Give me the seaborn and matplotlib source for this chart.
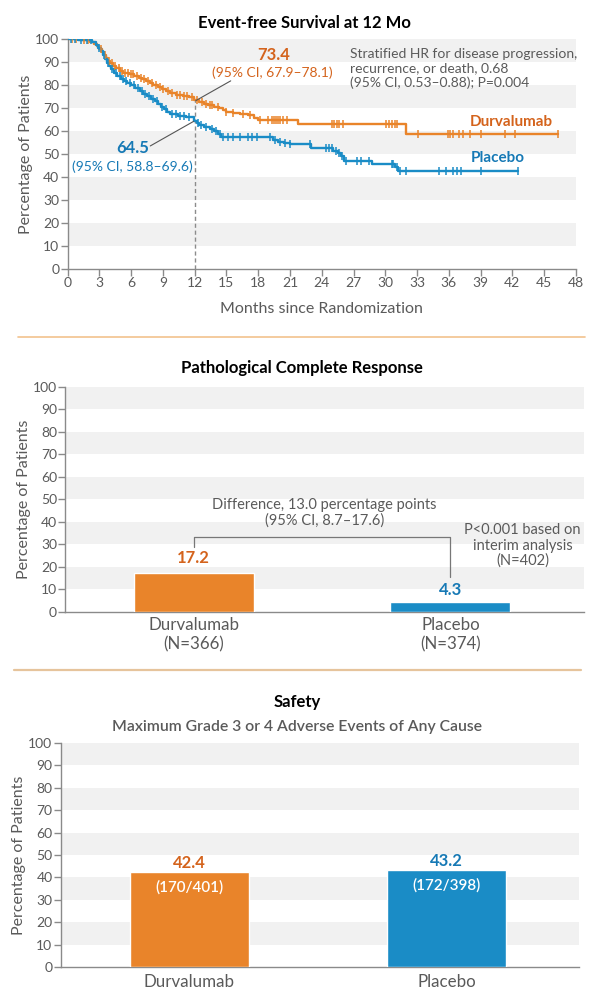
import numpy as np
import pandas as pd
import matplotlib
matplotlib.use("Agg")
import matplotlib.pyplot as plt
import seaborn as sns

sns.set_theme(style="white")
plt.rcParams['font.family'] = ['Lato', 'DejaVu Sans']

# colours
ORANGE = "#E9842A"
BLUE = "#1A8CC6"
ORANGE_TXT = "#D4631C"
BLUE_TXT = "#1679B5"
GREY_TXT = "#5a5a5a"
AXIS_GREY = "#8a8a8a"
BAND = "#F1F1F1"

# --- Event-free survival ---
durva_t = [0, 1.2, 2.1, 2.5, 2.8, 3.0, 3.2, 3.4, 3.6, 3.8, 4.0, 4.3, 4.6, 4.9, 5.2, 5.8, 6.3, 6.7,
           7.0, 7.4, 7.8, 8.1, 8.5, 8.9, 9.3, 9.7, 10.2, 10.9, 11.5, 11.9, 12.4, 12.9, 13.3, 13.8,
           14.3, 14.7, 15.0, 15.6, 16.3, 17.0, 17.6, 18.0, 21.8, 32.0, 46.3]
durva_s = [100, 99.4, 98.8, 97.8, 96.8, 95.6, 94.4, 93.2, 91.8, 90.6, 89.4, 88.2, 87.2, 86.2, 85.4,
           84.8, 84.0, 83.2, 82.6, 81.8, 80.8, 80.0, 79.0, 78.2, 77.2, 76.4, 75.8, 75.2, 74.6, 73.4,
           72.6, 71.8, 71.2, 70.6, 70.0, 69.2, 68.2, 67.8, 67.4, 66.8, 65.8, 64.6, 63.2, 58.9, 58.9]
durva_cens = [0.4, 0.8, 1.5, 1.9, 3.1, 3.5, 3.9, 4.2, 4.5, 4.8, 5.1, 5.4, 5.7, 6.0, 6.2, 6.5, 6.9,
              7.2, 7.6, 8.0, 8.3, 8.7, 9.0, 9.5, 9.9, 10.3, 10.6, 11.0, 11.3, 11.7, 12.2, 12.7, 13.1,
              13.4, 13.6, 14.2, 15.0, 15.6, 16.6, 17.2, 18.2, 18.9, 19.3, 19.5, 19.7, 19.9, 20.1,
              20.3, 20.7, 25.0, 25.2, 25.4, 25.6, 26.0, 30.1, 30.4, 30.6, 30.9, 31.1, 33.1, 35.9,
              36.1, 36.4, 37.0, 37.3, 38.0, 39.0, 41.3, 42.3, 46.3]

placebo_t = [0, 1.0, 2.3, 2.7, 2.9, 3.1, 3.3, 3.5, 3.7, 3.9, 4.1, 4.4, 4.7, 5.0, 5.3, 5.6, 6.0, 6.4,
             6.8, 7.1, 7.5, 7.9, 8.2, 8.5, 8.8, 9.1, 9.4, 9.7, 10.4, 11.2, 11.9, 12.2, 12.4, 12.9,
             13.4, 13.8, 14.2, 14.5, 19.4, 19.9, 20.4, 21.0, 23.0, 25.1, 25.5, 25.8, 26.1, 28.7,
             30.9, 31.2, 42.5]
placebo_s = [100, 99.4, 98.8, 97.4, 96.2, 94.6, 93.0, 91.2, 89.6, 88.2, 86.8, 85.2, 84.0, 82.8,
             81.8, 80.8, 79.8, 78.6, 77.2, 76.2, 75.2, 74.0, 73.0, 71.8, 70.6, 69.4, 68.2, 67.2,
             66.6, 66.0, 64.5, 63.4, 62.6, 61.6, 60.8, 59.8, 58.6, 57.2, 56.2, 55.4, 54.8, 54.2,
             52.4, 51.4, 50.4, 49.2, 47.0, 45.6, 44.2, 42.8, 42.8]
placebo_cens = [0.3, 0.7, 1.3, 1.8, 2.2, 3.0, 3.4, 3.8, 4.2, 4.6, 4.9, 5.2, 5.5, 5.9, 6.3, 6.6, 7.0,
                7.3, 7.7, 8.1, 8.4, 8.9, 9.3, 9.9, 10.2, 10.6, 11.0, 11.5, 12.3, 12.6, 13.1, 13.6,
                14.0, 14.4, 14.7, 15.1, 15.6, 16.3, 17.0, 17.4, 17.9, 19.1, 19.6, 20.1, 20.5, 21.0,
                22.9, 24.4, 24.7, 25.0, 25.3, 25.6, 25.9, 26.3, 27.3, 27.7, 28.5, 30.6, 30.7, 31.1,
                31.4, 32.0, 35.1, 35.7, 36.4, 36.8, 37.2, 39.0, 42.5]

# --- bar panels ---
arms = ["Durvalumab", "Placebo"]
pcr_values = [17.2, 4.3]
pcr_labels = ["Durvalumab\n(N=366)", "Placebo\n(N=374)"]
ae_values = [42.4, 43.2]
ae_counts = ["(170/401)", "(172/398)"]

TICK_FS = 10
LABEL_FS = 11.5
NOTE_FS = 10
TITLE_FS = 12
CAT_FS = 12.2


def step_value(times, surv, t):
    idx = np.searchsorted(times, t, side="right") - 1
    return np.array(surv)[idx]


def style_axis(ax):
    # grey bands 10-20, 30-40, ... 90-100
    for y0 in range(10, 100, 20):
        ax.axhspan(y0, y0 + 10, color=BAND, lw=0, zorder=0)
    ax.set_ylim(0, 100)
    ax.set_yticks(range(0, 101, 10))
    sns.despine(ax=ax)
    for s in ("left", "bottom"):
        ax.spines[s].set_color(AXIS_GREY)
        ax.spines[s].set_linewidth(1.0)
    ax.tick_params(axis="y", direction="out", length=5, width=1, color=AXIS_GREY,
                   labelsize=TICK_FS, labelcolor=GREY_TXT, pad=1, left=True)
    ax.set_ylabel("Percentage of Patients", fontsize=LABEL_FS, color=GREY_TXT, labelpad=1.5)
    ax.set_facecolor("white")


fig = plt.figure(figsize=(6, 9.93), dpi=100)

def fx(px):
    return px / 600

def fy(py):
    return 1 - py / 993

# ---------------- top panel ----------------
ax1 = fig.add_axes([fx(67.7), fy(269), fx(575.8) - fx(67.7), fy(39) - fy(269)])
style_axis(ax1)
ax1.set_xlim(0, 48)
ax1.set_xticks(range(0, 49, 3))
ax1.tick_params(axis="x", direction="out", length=5, width=1, color=AXIS_GREY,
                labelsize=TICK_FS, labelcolor=GREY_TXT, pad=1, bottom=True)

km = pd.concat([
    pd.DataFrame({"t": durva_t, "s": durva_s, "arm": "Durvalumab"}),
    pd.DataFrame({"t": placebo_t, "s": placebo_s, "arm": "Placebo"}),
])
cens = pd.concat([
    pd.DataFrame({"t": durva_cens, "s": step_value(durva_t, durva_s, durva_cens), "arm": "Durvalumab"}),
    pd.DataFrame({"t": placebo_cens, "s": step_value(placebo_t, placebo_s, placebo_cens), "arm": "Placebo"}),
])
pal = {"Durvalumab": ORANGE, "Placebo": BLUE}
sns.lineplot(data=km, x="t", y="s", hue="arm", palette=pal, drawstyle="steps-post",
             estimator=None, sort=False, lw=1.7, legend=False, ax=ax1, zorder=3)
for arm in ["Durvalumab", "Placebo"]:
    sub = cens[cens["arm"] == arm]
    ax1.plot(sub["t"], sub["s"], ls="none", marker="|", ms=5.5, mew=1.1, color=pal[arm], zorder=4)
ax1.set_xlabel("Months since Randomization", fontsize=LABEL_FS, color=GREY_TXT, labelpad=9)
ax1.set_ylabel("Percentage of Patients", fontsize=LABEL_FS, color=GREY_TXT, labelpad=1.5)

ax1.plot([12, 12], [0, 73.4], ls=(0, (3, 2)), color="#8c8c8c", lw=1, zorder=2)
ax1.plot([12.1, 15.4], [73.2, 81.8], color="#555555", lw=0.8, zorder=5)
ax1.plot([11.9, 7.8], [64.2, 53.5], color="#555555", lw=0.8, zorder=5)
ax1.text(19.5, 93.0, "73.4", color=ORANGE_TXT, fontsize=12, fontweight="bold", ha="center", va="center")
ax1.text(19.3, 85.3, "(95% CI, 67.9\u201378.1)", color=ORANGE_TXT, fontsize=NOTE_FS, ha="center", va="center")
ax1.text(6.1, 52.8, "64.5", color=BLUE_TXT, fontsize=12, fontweight="bold", ha="center", va="center")
ax1.text(6.1, 44.4, "(95% CI, 58.8\u201369.6)", color=BLUE_TXT, fontsize=NOTE_FS, ha="center", va="center")
ax1.text(26.7, 87.2, "Stratified HR for disease progression,\nrecurrence, or death, 0.68\n"
         "(95% CI, 0.53\u20130.88); P=0.004", color=GREY_TXT, fontsize=NOTE_FS,
         ha="left", va="center", linespacing=1.22)
ax1.text(45.8, 64.0, "Durvalumab", color=ORANGE_TXT, fontsize=11, fontweight="bold", ha="right", va="center")
ax1.text(43.2, 48.3, "Placebo", color=BLUE_TXT, fontsize=11, fontweight="bold", ha="right", va="center")
fig.text(fx(304), fy(23), "Event-free Survival at 12 Mo", fontsize=TITLE_FS, fontweight="bold",
         color="black", ha="center", va="center")

# separators
fig.add_artist(plt.Line2D([fx(18), fx(585)], [fy(337), fy(337)], color="#F2C28E", lw=1.2))
fig.add_artist(plt.Line2D([fx(14), fx(581)], [fy(670), fy(670)], color="#E6C49C", lw=1.6))

# ---------------- middle panel ----------------
ax2 = fig.add_axes([fx(65.4), fy(611.7), fx(583.8) - fx(65.4), fy(386.7) - fy(611.7)])
sns.barplot(x=arms, y=pcr_values, hue=arms, palette=[ORANGE, BLUE], width=0.467,
            legend=False, ax=ax2, zorder=3, saturation=1)
style_axis(ax2)
ax2.set_xlim(-0.499, 1.519)
ax2.set_xticks([0, 1])
ax2.set_xticklabels(pcr_labels, fontsize=CAT_FS, color=GREY_TXT, linespacing=1.2)
ax2.tick_params(axis="x", length=0, pad=4)
ax2.set_xlabel("")
ax2.text(0, 23.7, "17.2", color=ORANGE_TXT, fontsize=12, fontweight="bold", ha="center", va="center")
ax2.text(1, 9.6, "4.3", color=BLUE_TXT, fontsize=12, fontweight="bold", ha="center", va="center")
ax2.plot([0, 0, 1, 1], [28.9, 33.3, 33.3, 15.6], color="#777777", lw=0.9, zorder=4)
ax2.text(0.51, 44.0, "Difference, 13.0 percentage points\n(95% CI, 8.7\u201317.6)", color=GREY_TXT,
         fontsize=NOTE_FS + 0.5, ha="center", va="center", linespacing=1.1)
ax2.text(1.28, 29.3, "P<0.001 based on\ninterim analysis\n(N=402)", color=GREY_TXT,
         fontsize=NOTE_FS + 0.5, ha="center", va="center", linespacing=1.1)
fig.text(fx(302), fy(368), "Pathological Complete Response", fontsize=TITLE_FS, fontweight="bold",
         color="black", ha="center", va="center")

# ---------------- bottom panel ----------------
ax3 = fig.add_axes([fx(60.8), fy(967.3), fx(579.2) - fx(60.8), fy(742.7) - fy(967.3)])
sns.barplot(x=arms, y=ae_values, hue=arms, palette=[ORANGE, BLUE], width=0.463,
            legend=False, ax=ax3, zorder=3, saturation=1)
style_axis(ax3)
ax3.set_xlim(-0.499, 1.515)
ax3.set_xticks([0, 1])
ax3.set_xticklabels(arms, fontsize=CAT_FS, color=GREY_TXT)
ax3.tick_params(axis="x", length=0, pad=5)
ax3.set_xlabel("")
for i, (v, c) in enumerate(zip(ae_values, ae_counts)):
    ax3.text(i, v + 4.2, f"{v}", color=[ORANGE_TXT, BLUE_TXT][i], fontsize=12,
             fontweight="bold", ha="center", va="center")
    ax3.text(i, v - 6.8, c, color="white", fontsize=11, fontweight="semibold",
             ha="center", va="center")
fig.text(fx(297), fy(702), "Safety", fontsize=TITLE_FS, fontweight="bold", color="black",
         ha="center", va="center")
fig.text(fx(297.5), fy(727), "Maximum Grade 3 or 4 Adverse Events of Any Cause", fontsize=11.3,
         fontweight="semibold", color=GREY_TXT, ha="center", va="center")

fig.savefig("out.png", dpi=100)
